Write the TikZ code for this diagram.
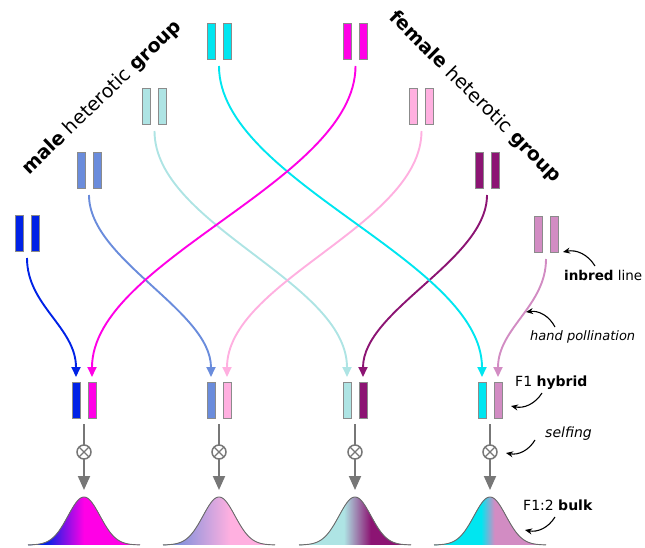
\documentclass[tikz,border=0pt]{standalone}
\usepackage{fontspec}
\setmainfont{DejaVu Sans}
\usetikzlibrary{arrows.meta}
\definecolor{cBlue}{HTML}{0022E6}
\definecolor{cMid}{HTML}{6A8CDC}
\definecolor{cLcyan}{HTML}{AEE4E4}
\definecolor{cCyan}{HTML}{00E6F0}
\definecolor{cMag}{HTML}{FF00E6}
\definecolor{cLpink}{HTML}{FFB0E0}
\definecolor{cPurp}{HTML}{8C1473}
\definecolor{cPinkish}{HTML}{D28CC3}
\definecolor{cGray}{HTML}{777777}
\pgfdeclarehorizontalshading{bellA}{100bp}{color(0bp)=(cBlue); color(33bp)=(cBlue); color(50bp)=(cMag); color(100bp)=(cMag)}
\pgfdeclarehorizontalshading{bellB}{100bp}{color(0bp)=(cMid); color(27bp)=(cMid); color(55bp)=(cLpink); color(100bp)=(cLpink)}
\pgfdeclarehorizontalshading{bellC}{100bp}{color(0bp)=(cLcyan); color(45bp)=(cLcyan); color(57bp)=(cPurp); color(100bp)=(cPurp)}
\pgfdeclarehorizontalshading{bellD}{100bp}{color(0bp)=(cCyan); color(46bp)=(cCyan); color(52bp)=(cPinkish); color(100bp)=(cPinkish)}
\tikzset{
  bar/.style={draw=cGray!85, line width=0.6pt, minimum width=8pt, minimum height=36pt, inner sep=0pt, outer sep=0pt},
  pairbox/.style={minimum width=24pt, minimum height=36pt, inner sep=0pt, outer sep=0pt},
  conn/.style={line width=1.9pt, shorten <=7pt, shorten >=5pt, -{Triangle[length=10pt,width=9pt]}},
  selfline/.style={cGray, line width=1.9pt, shorten <=6pt},
  selfarrow/.style={cGray, line width=1.9pt, shorten >=7pt, -{Triangle[length=14pt,width=12pt]}},
  selfcirc/.style={circle, draw=cGray, line width=1.5pt, minimum size=14pt, inner sep=0pt, outer sep=0pt,
    path picture={\draw[cGray, line width=1.3pt] (path picture bounding box.north west) -- (path picture bounding box.south east)
      (path picture bounding box.north east) -- (path picture bounding box.south west);}},
  bellline/.style={draw=cGray!90!black, line width=0.9pt},
  lbl/.style={inner sep=0pt, font=\fontsize{14}{17}\selectfont},
  ttl/.style={inner sep=0pt, font=\fontsize{19}{23}\selectfont},
  note/.style={line width=1.1pt, -{Stealth[length=7pt,width=6pt]}}
}
\newcommand{\chrompair}[5]{%
  \node[pairbox] (#1) at (#2,-#3-18) {};
  \node[bar, fill=#4] (#1-l) at (#2-8,-#3-18) {};
  \node[bar, fill=#5] (#1-r) at (#2+8,-#3-18) {};
}
\newcommand{\bellcurve}[3]{%
  \fill[shading=#2] (#1-56,-545) -- plot[domain=-56:56, samples=90] ({#1+\x},{-545+48*exp(-((\x)*(\x))/512)}) -- cycle;
  \draw[bellline] plot[domain=-56:56, samples=90] ({#1+\x},{-545+48*exp(-((\x)*(\x))/512)});
  \coordinate (#3) at (#1,-497);
}
\begin{document}
\begin{tikzpicture}[x=1pt,y=1pt]
\useasboundingbox (0,0) rectangle (645,-548);
% parents
\chrompair{pBlue}{27}{215}{cBlue}{cBlue}
\chrompair{pMid}{89}{152}{cMid}{cMid}
\chrompair{pLcyan}{154.5}{88}{cLcyan}{cLcyan}
\chrompair{pCyan}{219}{23}{cCyan}{cCyan}
\chrompair{pMag}{355.5}{23}{cMag}{cMag}
\chrompair{pLpink}{421.5}{88}{cLpink}{cLpink}
\chrompair{pPurp}{487}{152}{cPurp}{cPurp}
\chrompair{pPinkish}{546}{216}{cPinkish}{cPinkish}
% hybrids
\chrompair{h1}{84}{382}{cBlue}{cMag}
\chrompair{h2}{219}{382}{cMid}{cLpink}
\chrompair{h3}{355}{382}{cLcyan}{cPurp}
\chrompair{h4}{490}{382}{cCyan}{cPinkish}
% crossings
\draw[conn, cLcyan] (pLcyan.south) to[out=-90,in=90,looseness=0.8] (h3-l.north);
\draw[conn, cLpink] (pLpink.south) to[out=-90,in=90,looseness=0.8] (h2-r.north);
\draw[conn, cMid] (pMid.south) to[out=-90,in=90,looseness=0.8] (h2-l.north);
\draw[conn, cPurp] (pPurp.south) to[out=-90,in=90,looseness=0.8] (h3-r.north);
\draw[conn, cBlue] (pBlue.south) to[out=-90,in=90] (h1-l.north);
\draw[conn, cPinkish] (pPinkish.south) to[out=-90,in=90] (h4-r.north);
\draw[conn, cCyan] (pCyan.south) to[out=-90,in=90,looseness=0.75] (h4-l.north);
\draw[conn, cMag] (pMag.south) to[out=-90,in=90,looseness=0.75] (h1-r.north);
% selfing and bulks
\bellcurve{84}{bellA}{b1}
\bellcurve{219}{bellB}{b2}
\bellcurve{355}{bellC}{b3}
\bellcurve{490}{bellD}{b4}
\foreach \i/\c in {1/84,2/219,3/355,4/490}{
  \node[selfcirc] (s\i) at (\c,-452) {};
  \draw[selfline] (h\i.south) -- (s\i.north);
  \draw[selfarrow] (s\i.south) -- (b\i);
}
% titles
\node[ttl, rotate=44] (tmale) at (102,-98) {\textbf{male} heterotic \textbf{group}};
\node[ttl, rotate=-45] (tfemale) at (475,-97) {\textbf{female} heterotic \textbf{group}};
% labels
\node[lbl, anchor=base west, font=\fontsize{13.5}{16}\selectfont] (linbred) at (564,-280) {\textbf{inbred} line};
\node[lbl, anchor=base west, font=\fontsize{13}{16}\selectfont] (lhand) at (530,-340) {\textit{hand pollination}};
\node[lbl, anchor=base west] (lf1) at (515,-386) {F1 \textbf{hybrid}};
\node[lbl, anchor=base west] (lself) at (545,-437) {\textit{selfing}};
\node[lbl, anchor=base west] (lbulk) at (523,-510) {F1:2 \textbf{bulk}};
% note arrows
\coordinate (ainbT) at (595,-266); \coordinate (ainbH) at (563,-252);
\coordinate (ahanT) at (555,-327); \coordinate (ahanH) at (526,-312);
\coordinate (af1T) at (542,-393); \coordinate (af1H) at (511,-406);
\coordinate (aselT) at (535,-440); \coordinate (aselH) at (506,-453);
\coordinate (abulT) at (555,-517); \coordinate (abulH) at (525,-530);
\draw[note] (ainbT) to[bend right=35] (ainbH);
\draw[note] (ahanT) to[bend right=35] (ahanH);
\draw[note] (af1T) to[bend left=35] (af1H);
\draw[note] (aselT) to[bend left=35] (aselH);
\draw[note] (abulT) to[bend left=35] (abulH);
\end{tikzpicture}
\end{document}
